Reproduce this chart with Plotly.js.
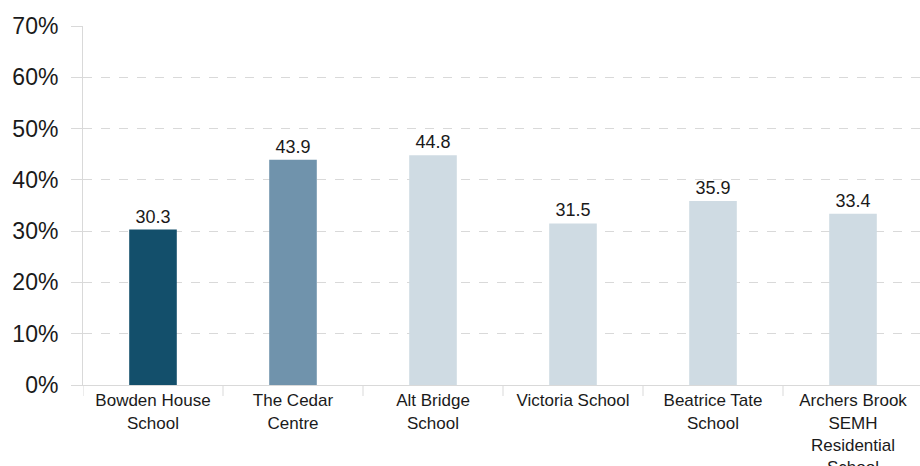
<!DOCTYPE html>
<html><head><meta charset="utf-8">
<script src="https://cdn.plot.ly/plotly-3.0.1.min.js"></script>
<style>html,body{margin:0;padding:0;overflow:hidden;background:#fff}#c{width:923px;height:466px}</style>
</head><body><div id="c"></div>
<script>
const categories = ["Bowden House<br>School", "The Cedar<br>Centre", "Alt Bridge<br>School", "Victoria School", "Beatrice Tate<br>School", "Archers Brook<br>SEMH<br>Residential<br>School"];
const values = [30.3, 43.9, 44.8, 31.5, 35.9, 33.4];
const barColors = ["#134f6b", "#7093ac", "#cfdbe3", "#cfdbe3", "#cfdbe3", "#cfdbe3"];
const yTickVals = [0, 10, 20, 30, 40, 50, 60, 70];
const yTickText = ["0%", "10%", "20%", "30%", "40%", "50%", "60%", "70%"];

const trace = {
  type: "bar", x: categories, y: values, width: 0.34,
  marker: {color: barColors},
  text: values.map(v => v.toFixed(1)), textposition: "outside",
  textfont: {family: "Liberation Sans, Arial, sans-serif", size: 18, color: "#1a1a1a"},
  cliponaxis: false, hoverinfo: "none"
};
const dividers = [];
for (let i = 0; i <= categories.length; i++) {
  dividers.push({type: "line", xref: "x", yref: "paper", ysizemode: "pixel", yanchor: 0,
    x0: i - 0.5, x1: i - 0.5, y0: 0, y1: -11, line: {color: "#d9d9d9", width: 1}});
}
const layout = {
  width: 923, height: 466,
  margin: {l: 83, r: 0, t: 26, b: 81},
  paper_bgcolor: "#fff", plot_bgcolor: "#fff",
  showlegend: false,
  font: {family: "Liberation Sans, Arial, sans-serif", color: "#1a1a1a"},
  xaxis: {type: "category", range: [-0.5, 5.5], showgrid: false, zeroline: false,
    showline: true, linecolor: "#d9d9d9", linewidth: 1, ticks: "",
    tickfont: {size: 17, color: "#1a1a1a"}},
  yaxis: {range: [0, 70], tickvals: yTickVals, ticktext: yTickText,
    showgrid: true, gridcolor: "#d9d9d9", griddash: "dash", gridwidth: 1,
    zeroline: false, showline: true, linecolor: "#d9d9d9", linewidth: 1,
    ticks: "outside", ticklen: 11, tickcolor: "#d9d9d9", ticklabelstandoff: 8,
    tickfont: {size: 23, color: "#1a1a1a"}},
  shapes: dividers
};
Plotly.newPlot("c", [trace], layout, {displayModeBar: false, staticPlot: true});
</script></body></html>
